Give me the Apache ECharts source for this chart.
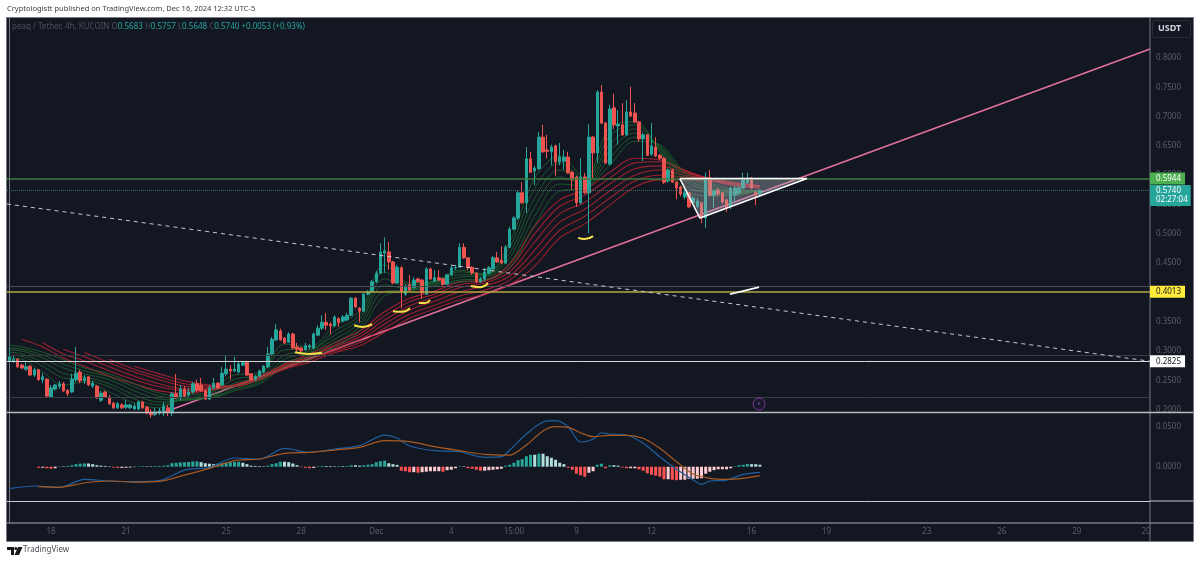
<!DOCTYPE html>
<html>
<head>
<meta charset="utf-8">
<title>peaq / Tether</title>
<style>
html, body { margin: 0; padding: 0; background: #fff; }
#chart { width: 1200px; height: 565px; }
</style>
<script src="https://cdn.jsdelivr.net/npm/echarts@6/dist/echarts.min.js"></script>
</head>
<body>
<div id="chart"></div>
<script>
// candles, 4h bars (bar 0 is the first candle on the left)
const opens = [
  0.283,0.283,0.286,0.276,0.269,0.274,0.259,0.268,0.251,0.252,
  0.221,0.235,0.240,0.244,0.233,0.230,0.251,0.264,0.249,0.256,
  0.240,0.240,0.216,0.230,0.221,0.211,0.203,0.208,0.204,0.203,
  0.201,0.201,0.213,0.204,0.196,0.192,0.194,0.194,0.203,0.194,
  0.227,0.220,0.235,0.225,0.230,0.244,0.242,0.232,0.218,0.237,
  0.245,0.242,0.261,0.269,0.266,0.264,0.276,0.281,0.261,0.252,
  0.257,0.264,0.273,0.295,0.319,0.334,0.322,0.315,0.329,0.307,
  0.305,0.302,0.307,0.305,0.327,0.339,0.349,0.346,0.343,0.355,
  0.351,0.353,0.361,0.390,0.373,0.368,0.397,0.401,0.418,0.433,
  0.467,0.469,0.452,0.416,0.442,0.397,0.413,0.408,0.423,0.421,
  0.397,0.440,0.419,0.425,0.423,0.414,0.430,0.442,0.443,0.477,
  0.459,0.443,0.433,0.418,0.423,0.433,0.440,0.459,0.455,0.450,
  0.477,0.508,0.527,0.570,0.553,0.628,0.607,0.611,0.665,0.643,
  0.640,0.650,0.623,0.624,0.631,0.605,0.597,0.553,0.597,0.570,
  0.665,0.638,0.742,0.689,0.619,0.715,0.684,0.686,0.669,0.708,
  0.706,0.691,0.662,0.669,0.636,0.648,0.634,0.629,0.590,0.609,
  0.588,0.580,0.563,0.570,0.553,0.547,0.553,0.527,0.595,0.566,
  0.575,0.570,0.558,0.546,0.566,0.570,0.578,0.587,0.595,0.571,
  0.5683
];
const closes = [
  0.290,0.286,0.273,0.271,0.273,0.259,0.268,0.251,0.256,0.223,
  0.237,0.242,0.244,0.232,0.227,0.252,0.262,0.249,0.254,0.242,
  0.245,0.220,0.228,0.221,0.210,0.203,0.210,0.203,0.208,0.208,
  0.206,0.213,0.203,0.194,0.191,0.196,0.198,0.206,0.196,0.227,
  0.220,0.235,0.223,0.230,0.244,0.233,0.232,0.218,0.237,0.245,
  0.237,0.262,0.269,0.266,0.269,0.278,0.280,0.259,0.251,0.257,
  0.266,0.274,0.295,0.320,0.336,0.319,0.314,0.329,0.305,0.303,
  0.300,0.309,0.309,0.329,0.339,0.349,0.344,0.343,0.358,0.349,
  0.358,0.361,0.390,0.375,0.368,0.397,0.401,0.418,0.433,0.469,
  0.471,0.452,0.416,0.443,0.402,0.409,0.404,0.421,0.418,0.399,
  0.440,0.423,0.425,0.421,0.414,0.430,0.442,0.443,0.477,0.459,
  0.442,0.433,0.418,0.423,0.435,0.442,0.459,0.452,0.450,0.477,
  0.508,0.527,0.570,0.553,0.628,0.605,0.612,0.665,0.640,0.641,
  0.648,0.623,0.631,0.631,0.604,0.592,0.553,0.597,0.570,0.665,
  0.638,0.742,0.689,0.621,0.713,0.686,0.687,0.669,0.708,0.701,
  0.691,0.662,0.669,0.634,0.650,0.633,0.629,0.588,0.609,0.588,
  0.578,0.568,0.570,0.546,0.561,0.556,0.527,0.595,0.566,0.573,
  0.568,0.554,0.544,0.578,0.578,0.578,0.592,0.595,0.578,0.566,
  0.5740
];
const highs = [
  0.305,0.293,0.288,0.278,0.281,0.276,0.271,0.269,0.262,0.254,
  0.242,0.244,0.249,0.247,0.235,0.261,0.307,0.268,0.259,0.257,
  0.249,0.242,0.232,0.232,0.225,0.213,0.213,0.211,0.216,0.210,
  0.210,0.215,0.215,0.206,0.201,0.203,0.203,0.213,0.208,0.230,
  0.261,0.242,0.240,0.237,0.247,0.251,0.254,0.235,0.242,0.254,
  0.247,0.273,0.293,0.276,0.290,0.281,0.283,0.283,0.262,0.259,
  0.268,0.276,0.307,0.324,0.346,0.338,0.324,0.332,0.331,0.314,
  0.307,0.314,0.312,0.332,0.344,0.361,0.365,0.349,0.361,0.358,
  0.361,0.365,0.392,0.392,0.375,0.399,0.404,0.421,0.437,0.484,
  0.494,0.486,0.454,0.447,0.445,0.414,0.430,0.426,0.425,0.423,
  0.443,0.442,0.438,0.438,0.425,0.431,0.445,0.447,0.484,0.484,
  0.460,0.445,0.435,0.426,0.442,0.445,0.462,0.469,0.479,0.481,
  0.512,0.530,0.573,0.588,0.648,0.640,0.616,0.674,0.686,0.669,
  0.652,0.652,0.655,0.643,0.640,0.607,0.599,0.629,0.604,0.687,
  0.667,0.745,0.754,0.691,0.720,0.739,0.711,0.723,0.728,0.751,
  0.723,0.692,0.672,0.670,0.689,0.665,0.636,0.631,0.612,0.611,
  0.590,0.582,0.575,0.571,0.564,0.561,0.554,0.605,0.609,0.576,
  0.578,0.571,0.559,0.580,0.582,0.582,0.604,0.604,0.597,0.573,
  0.5757
];
const lows = [
  0.281,0.280,0.271,0.269,0.266,0.257,0.256,0.249,0.245,0.221,
  0.220,0.232,0.235,0.230,0.223,0.228,0.247,0.245,0.244,0.240,
  0.237,0.218,0.213,0.220,0.208,0.201,0.201,0.201,0.201,0.201,
  0.199,0.199,0.201,0.192,0.186,0.189,0.191,0.189,0.189,0.189,
  0.218,0.216,0.220,0.221,0.227,0.230,0.230,0.216,0.216,0.235,
  0.235,0.240,0.257,0.251,0.264,0.262,0.274,0.257,0.249,0.249,
  0.256,0.262,0.271,0.291,0.317,0.317,0.312,0.314,0.303,0.298,
  0.298,0.300,0.303,0.303,0.326,0.336,0.336,0.329,0.341,0.341,
  0.349,0.351,0.360,0.373,0.349,0.367,0.396,0.399,0.416,0.431,
  0.433,0.438,0.414,0.414,0.373,0.394,0.402,0.406,0.416,0.389,
  0.396,0.421,0.418,0.419,0.411,0.413,0.428,0.438,0.442,0.457,
  0.438,0.430,0.416,0.416,0.419,0.431,0.438,0.450,0.448,0.448,
  0.476,0.506,0.524,0.551,0.536,0.604,0.583,0.609,0.638,0.629,
  0.617,0.599,0.617,0.609,0.602,0.575,0.546,0.551,0.568,0.501,
  0.595,0.621,0.687,0.619,0.617,0.679,0.652,0.667,0.667,0.699,
  0.689,0.657,0.624,0.633,0.633,0.631,0.626,0.585,0.587,0.587,
  0.559,0.564,0.559,0.544,0.549,0.544,0.518,0.510,0.564,0.544,
  0.564,0.551,0.537,0.542,0.554,0.566,0.576,0.585,0.576,0.549,
  0.5648
];

// ribbon lines, price read at these bars (null where a line has not started yet)
const ribbonBars = [0,3,8,13,18,24,30,36,42,48,54,60,66,72,78,84,90,96,102,108,114,120,126,132,138,144,150,156,162,168,174,180];
const green1 = [0.288,0.286,0.264,0.242,0.247,0.230,0.211,0.203,0.223,0.230,0.259,0.262,0.312,0.307,0.343,0.368,0.447,0.416,0.419,0.438,0.431,0.486,0.595,0.633,0.595,0.681,0.691,0.640,0.575,0.565,0.566,0.575];
const green2 = [0.293,0.291,0.274,0.254,0.251,0.239,0.218,0.208,0.218,0.227,0.252,0.259,0.302,0.303,0.334,0.361,0.435,0.413,0.419,0.435,0.431,0.477,0.578,0.621,0.592,0.667,0.686,0.643,0.583,0.570,0.568,0.575];
const green3 = [0.298,0.295,0.281,0.262,0.256,0.244,0.225,0.213,0.216,0.223,0.245,0.256,0.293,0.300,0.327,0.355,0.423,0.409,0.418,0.430,0.430,0.467,0.561,0.609,0.588,0.653,0.679,0.646,0.590,0.575,0.570,0.575];
const green4 = [0.302,0.300,0.288,0.271,0.261,0.251,0.232,0.218,0.216,0.221,0.240,0.251,0.286,0.297,0.320,0.348,0.413,0.406,0.416,0.426,0.428,0.459,0.546,0.597,0.585,0.641,0.672,0.648,0.595,0.578,0.571,0.573];
const green5 = [0.305,0.303,0.293,0.278,0.266,0.256,0.239,0.223,0.218,0.220,0.235,0.247,0.280,0.291,0.314,0.341,0.402,0.404,0.414,0.421,0.425,0.450,0.530,0.585,0.582,0.629,0.665,0.650,0.600,0.583,0.573,0.573];
const green6 = [0.310,0.307,0.298,0.285,0.271,0.261,0.244,0.228,0.221,0.220,0.232,0.244,0.273,0.286,0.307,0.334,0.394,0.402,0.411,0.418,0.421,0.442,0.515,0.573,0.578,0.617,0.658,0.652,0.605,0.587,0.575,0.573];
const red1 = [null,0.320,0.307,0.288,0.274,0.257,0.244,0.232,0.228,0.233,0.242,0.257,0.278,0.295,0.314,0.334,0.367,0.390,0.402,0.418,0.421,0.448,0.513,0.558,0.575,0.605,0.629,0.626,0.609,0.592,0.582,0.578];
const red2 = [null,null,0.314,0.295,0.283,0.266,0.251,0.239,0.232,0.233,0.242,0.256,0.276,0.291,0.310,0.329,0.360,0.384,0.397,0.413,0.419,0.442,0.500,0.547,0.566,0.595,0.621,0.623,0.607,0.594,0.583,0.580];
const red3 = [null,null,null,0.303,0.290,0.273,0.257,0.244,0.235,0.235,0.242,0.254,0.274,0.290,0.307,0.324,0.353,0.377,0.392,0.408,0.416,0.435,0.486,0.534,0.554,0.585,0.611,0.616,0.604,0.595,0.585,0.580];
const red4 = [null,null,null,null,0.298,0.280,0.264,0.251,0.240,0.237,0.240,0.252,0.273,0.286,0.303,0.319,0.346,0.370,0.385,0.401,0.411,0.428,0.472,0.520,0.542,0.573,0.600,0.609,0.600,0.595,0.587,0.582];
const red5 = [null,null,null,null,null,0.286,0.269,0.256,0.244,0.240,0.240,0.251,0.271,0.285,0.300,0.314,0.339,0.363,0.378,0.394,0.404,0.421,0.459,0.506,0.530,0.561,0.590,0.600,0.597,0.594,0.587,0.582];
const red6 = [null,null,null,null,null,null,0.274,0.261,0.249,0.242,0.240,0.251,0.269,0.281,0.297,0.309,0.332,0.356,0.372,0.387,0.397,0.413,0.445,0.493,0.517,0.549,0.580,0.592,0.592,0.590,0.585,0.582];

// macd pane
const histStart = 7;
const histValues = [
  -0.0013,-0.0013,-0.0019,-0.0025,-0.0019,0.0006,0.0006,0.0010,0.0019,0.0032,0.0038,0.0042,0.0040,
  0.0032,0.0019,0.0013,0.0010,0.0006,-0.0010,-0.0015,-0.0015,-0.0013,-0.0010,-0.0005,0.0005,0.0008,
  0.0006,0.0006,0.0008,0.0010,0.0013,0.0019,0.0044,0.0050,0.0054,0.0057,0.0060,0.0066,0.0067,0.0057,
  0.0044,0.0038,0.0032,0.0038,0.0044,0.0050,0.0057,0.0060,0.0063,0.0050,0.0032,0.0013,0.0010,0.0008,
  0.0006,0.0013,0.0032,0.0044,0.0063,0.0063,0.0057,0.0040,0.0019,-0.0006,-0.0013,-0.0019,-0.0015,
  0.0006,0.0010,0.0009,0.0008,0.0006,0.0008,0.0008,0.0009,0.0019,0.0019,0.0013,0.0019,0.0025,0.0032,
  0.0057,0.0069,0.0076,0.0044,0.0032,0.0023,-0.0050,-0.0057,-0.0069,-0.0069,-0.0076,-0.0069,-0.0063,
  -0.0057,-0.0057,-0.0057,-0.0063,-0.0044,-0.0038,-0.0019,0.0006,0.0006,-0.0019,-0.0025,-0.0038,
  -0.0050,-0.0050,-0.0044,-0.0038,-0.0032,-0.0025,0.0013,0.0025,0.0050,0.0082,0.0095,0.0132,0.0151,
  0.0151,0.0164,0.0164,0.0132,0.0113,0.0088,0.0050,0.0032,-0.0013,-0.0038,-0.0088,-0.0107,-0.0126,
  -0.0076,-0.0057,0.0025,0.0038,-0.0019,0.0019,0.0019,0.0013,-0.0010,-0.0019,-0.0019,-0.0019,-0.0032,
  -0.0050,-0.0082,-0.0101,-0.0113,-0.0126,-0.0158,-0.0158,-0.0164,-0.0170,-0.0164,-0.0164,-0.0151,
  -0.0151,-0.0151,-0.0145,-0.0088,-0.0063,-0.0044,-0.0032,-0.0032,-0.0032,-0.0019,0.0006,0.0019,
  0.0025,0.0035,0.0032,0.0032,0.0025
];
const macdBars = [0,6,12,18,24,30,36,42,48,54,60,66,72,78,84,90,93,96,102,108,114,118,120,124,128,131,134,137,140,142,144,148,152,156,160,164,166,168,172,176,180];
const macdValues = [-0.0277,-0.0243,-0.0260,-0.0159,-0.0180,-0.0189,-0.0176,-0.0042,-0.0008,0.0110,0.0097,0.0232,0.0181,0.0223,0.0265,0.0399,0.0362,0.0261,0.0202,0.0189,0.0118,0.0126,0.0210,0.0412,0.0563,0.0580,0.0504,0.0311,0.0345,0.0428,0.0412,0.0399,0.0295,0.0126,-0.0033,-0.0168,-0.0222,-0.0180,-0.0168,-0.0096,-0.0071];
const signalBars = [7,12,18,24,30,36,42,48,54,60,66,72,78,84,90,96,102,108,114,120,124,128,131,134,137,140,144,148,152,156,160,164,168,172,176,180];
const signalValues = [-0.0252,-0.0260,-0.0205,-0.0180,-0.0193,-0.0184,-0.0105,-0.0020,0.0076,0.0097,0.0169,0.0181,0.0210,0.0244,0.0328,0.0315,0.0252,0.0202,0.0156,0.0147,0.0273,0.0450,0.0504,0.0496,0.0428,0.0378,0.0396,0.0396,0.0358,0.0232,0.0063,-0.0092,-0.0146,-0.0159,-0.0146,-0.0113];

// axis ticks
const priceTicks = [0.20,0.25,0.30,0.35,0.40,0.45,0.50,0.55,0.60,0.65,0.70,0.75,0.80];
const macdTicks = [0,0.05];
const timeBars = [10,28,52,70,88,106,121,136,154,178,196,220,238,256,272.6];
const timeLabels = ['18','21','25','28','Dec','4','15:00','9','12','16','19','23','26','29','20'];

// drawings on the chart
const pinkBars = [37.3,273.55];
const pinkPrices = [0.196,0.8154];
const dashBars = [-0.55,273.55];
const dashPrices = [0.5509,0.2825];
const triangleBars = [160.8,165.6,191.3];
const trianglePrices = [0.5944,0.527,0.5944];
const strokeBars = [[68.5,71.9,75],[82.7,84.8,87],[92,94.2,96.1],[98.2,99.7,100.9],[110.7,112.9,114.8],[136.4,138,140]];
const strokePrices = [[0.298,0.295,0.297],[0.344,0.341,0.346],[0.368,0.367,0.373],[0.382,0.382,0.387],[0.411,0.409,0.416],[0.493,0.491,0.496]];
const whiteBars = [172.8,179.8];
const whitePrices = [0.397,0.409];

const UP = '#26a69a', DOWN = '#ef5350', BG = '#131722', TICK = '#5a5e69', EDGE = '#787b86';
const FONT = '"Noto Sans", sans-serif';

function pairs(bars, values) {
  return bars.map((b, k) => [b, values[k]]).filter(p => p[1] !== null);
}

function lineSeries(bars, values, color, width, extra) {
  return Object.assign({
    type: 'line', xAxisIndex: 0, yAxisIndex: 0, data: pairs(bars, values),
    showSymbol: false, symbol: 'none', silent: true, animation: false,
    lineStyle: { color: color, width: width }, z: 3
  }, extra || {});
}

function hline(value, color, width, tag) {
  const item = { yAxis: value, lineStyle: { color: color, width: width, type: 'solid' }, label: { show: false } };
  if (tag) {
    item.label = {
      show: true, position: 'end', distance: 0, formatter: tag.text, color: tag.color,
      backgroundColor: tag.bg, padding: [2, 4, 1, 6], fontSize: 8, lineHeight: 9, fontFamily: FONT, align: 'left'
    };
  }
  return item;
}

const candleData = opens.map((o, i) => [i, o, closes[i], lows[i], highs[i]]);

// histogram colour follows the direction of the bar against the one before it
const histData = histValues.map((v, k) => {
  const prev = k > 0 ? histValues[k - 1] : 0;
  let color;
  if (v >= 0) color = v > prev ? UP : '#b2dfdb';
  else color = v < prev ? '#ff5252' : '#ffcdd2';
  return { value: [histStart + k, v], itemStyle: { color: color } };
});

const series = [];
// pink trendline goes under the ribbon, the red bundle covers it where they meet
series.push(lineSeries(pinkBars, pinkPrices, '#e2709d', 1.6, { z: 2 }));
[red6, red5, red4, red3, red2, red1].forEach(r => {
  series.push(lineSeries(ribbonBars, r, 'rgba(190,35,50,0.8)', 1.1, { smooth: 0.35 }));
});
[green6, green5, green4, green3, green2, green1].forEach(g => {
  series.push(lineSeries(ribbonBars, g, 'rgba(30,110,45,0.75)', 1, { smooth: 0.35 }));
});

series.push({
  type: 'candlestick', xAxisIndex: 0, yAxisIndex: 0, data: candleData, barWidth: 3, silent: true, animation: false, z: 4,
  itemStyle: { color: UP, color0: DOWN, borderColor: UP, borderColor0: DOWN, borderWidth: 1 },
  markLine: {
    symbol: 'none', silent: true, animation: false, precision: 4,
    data: [
      hline(0.5944, '#3f7a3f', 1.5, { text: '0.5944', color: '#fff', bg: '#4caf50' }),
      Object.assign(hline(0.5740, '#3d6b68', 1), { lineStyle: { color: '#3f6f6b', width: 1, type: 'dotted' },
        label: { show: true, position: 'end', distance: 0, offset: [0, 5], formatter: '0.5740\n02:27:04', color: '#fff', backgroundColor: UP, padding: [1, 3, 1, 6], fontSize: 8, lineHeight: 9.5, fontFamily: FONT, align: 'left' } }),
      hline(0.411, '#4d5059', 1),
      hline(0.4013, '#b5a642', 1.5, { text: '0.4013', color: '#131722', bg: '#ffeb3b' }),
      hline(0.2925, '#3a3d46', 1),
      hline(0.2825, '#d6d6d6', 1, { text: '0.2825', color: '#131722', bg: '#fff' }),
      hline(0.2214, '#3a3d46', 1)
    ]
  }
});

// triangle fill and its sides
series.push({
  type: 'custom', xAxisIndex: 0, yAxisIndex: 0, silent: true, animation: false, z: 5,
  data: [[triangleBars[1], trianglePrices[1]]],
  renderItem: function (params, api) {
    const pts = triangleBars.map((b, k) => api.coord([b, trianglePrices[k]]));
    return { type: 'polygon', shape: { points: pts }, style: { fill: 'rgba(170,175,185,0.38)' } };
  }
});
series.push(lineSeries(dashBars, dashPrices, '#c8cad0', 1, { z: 6, lineStyle: { color: '#c8cad0', width: 1, type: [4, 4] } }));
series.push(lineSeries(triangleBars.concat(triangleBars[0]), trianglePrices.concat(trianglePrices[0]), '#ffffff', 1.6, { z: 6 }));
strokeBars.forEach((b, k) => {
  series.push(lineSeries(b, strokePrices[k], '#f5e04a', 2, { smooth: true, z: 6 }));
});
series.push(lineSeries(whiteBars, whitePrices, '#ffffff', 1.6, { z: 6 }));

// alert marker
series.push({
  type: 'scatter', xAxisIndex: 0, yAxisIndex: 0, silent: true, animation: false, z: 6,
  data: [[179.8, 0.2095]], symbol: 'circle', symbolSize: 12,
  itemStyle: { color: '#1a1830', borderColor: '#8e44ad', borderWidth: 1 },
  label: { show: true, position: 'inside', formatter: '\u26A1', color: '#a55cc8', fontSize: 7, fontFamily: '"DejaVu Sans"' }
});

// macd pane
series.push({
  type: 'bar', xAxisIndex: 1, yAxisIndex: 1, data: histData, barWidth: 3, silent: true, animation: false, z: 2,
  markLine: {
    symbol: 'none', silent: true, animation: false, precision: 4, label: { show: false },
    data: [{ yAxis: -0.0432, lineStyle: { color: '#c8cad0', width: 1, type: 'solid' } }]
  }
});
series.push(lineSeries(macdBars, macdValues, '#1f5f9e', 1.2, { xAxisIndex: 1, yAxisIndex: 1, smooth: 0.3, z: 4 }));
series.push(lineSeries(signalBars, signalValues, '#a85a22', 1.2, { xAxisIndex: 1, yAxisIndex: 1, smooth: 0.3, z: 4 }));

const option = {
  animation: false,
  backgroundColor: '#ffffff',
  textStyle: { fontFamily: FONT },
  grid: [
    { left: 7, top: 18, width: 1143, height: 394, outerBoundsMode: 'none' },
    { left: 7, top: 414, width: 1143, height: 109, outerBoundsMode: 'none' }
  ],
  xAxis: [
    { type: 'value', gridIndex: 0, min: -0.55, max: 273.55, axisLine: { show: false }, axisTick: { show: false }, axisLabel: { show: false }, splitLine: { show: false } },
    {
      type: 'value', gridIndex: 1, min: -0.55, max: 273.55, splitLine: { show: false }, axisTick: { show: false },
      axisLine: { show: true, onZero: false, lineStyle: { color: EDGE, width: 1.5 } },
      axisLabel: {
        customValues: timeBars, color: TICK, fontSize: 8, margin: 5, fontFamily: FONT, hideOverlap: false, showMinLabel: true, showMaxLabel: true,
        formatter: v => timeLabels[timeBars.indexOf(v)]
      }
    }
  ],
  yAxis: [
    {
      type: 'value', gridIndex: 0, position: 'right', min: 0.1959, max: 0.8683, splitLine: { show: false },
      axisLine: { show: true, lineStyle: { color: EDGE, width: 1 } }, axisTick: { show: false },
      axisLabel: { customValues: priceTicks, color: TICK, fontSize: 8, margin: 6, fontFamily: FONT, formatter: v => v.toFixed(4) }
    },
    {
      type: 'value', gridIndex: 1, position: 'right', min: -0.0709, max: 0.0664, splitLine: { show: false },
      axisLine: { show: true, lineStyle: { color: EDGE, width: 1 } }, axisTick: { show: false },
      axisLabel: { customValues: macdTicks, color: TICK, fontSize: 8, margin: 6, fontFamily: FONT, formatter: v => v.toFixed(4) }
    }
  ],
  graphic: [
    { type: 'rect', z: -10, silent: true, shape: { x: 6.5, y: 17.5, width: 1147, height: 524 }, style: { fill: BG, stroke: EDGE, lineWidth: 1 } },
    { type: 'rect', z: -10, silent: true, shape: { x: 1150, y: 17.5, width: 43.5, height: 524 }, style: { fill: BG, stroke: EDGE, lineWidth: 1 } },
    { type: 'line', z: 7, silent: true, shape: { x1: 7, y1: 412.5, x2: 1193, y2: 412.5 }, style: { stroke: '#b9bbc0', lineWidth: 1.5 } },
    { type: 'line', z: 7, silent: true, shape: { x1: 1150, y1: 501, x2: 1193, y2: 501 }, style: { stroke: '#c8cad0', lineWidth: 1 } },
    { type: 'line', z: 7, silent: true, shape: { x1: 1150, y1: 523, x2: 1193, y2: 523 }, style: { stroke: EDGE, lineWidth: 1.5 } },
    { type: 'rect', z: 7, silent: true, shape: { x: 1152.5, y: 20.5, width: 38, height: 17, r: 2 }, style: { fill: BG, stroke: '#2a2e39', lineWidth: 1 } },
    { type: 'text', z: 8, silent: true, x: 1158, y: 24, style: { text: 'USDT', fill: '#d1d4dc', fontSize: 9, fontWeight: 'bold', fontFamily: FONT } },
    { type: 'text', z: 8, silent: true, x: 7, y: 5, style: { text: 'Cryptologistt published on TradingView.com, Dec 16, 2024 12:32 UTC-5', fill: '#3a3d45', fontSize: 7.5, fontFamily: FONT } },
    {
      type: 'text', z: 8, silent: true, x: 12, y: 23,
      style: {
        rich: { d: { fill: '#4b4f5b', fontSize: 8, fontFamily: FONT }, v: { fill: UP, fontSize: 8, fontFamily: FONT } },
        text: '{d|peaq / Tether, 4h, KUCOIN O}{v|0.5683}{d| H}{v|0.5757}{d| L}{v|0.5648}{d| C}{v|0.5740}{v| +0.0053 (+0.93%)}'
      }
    },
    // logo mark
    { type: 'polygon', z: 8, silent: true, shape: { points: [[7, 547], [14, 547], [14, 555], [11, 555], [11, 550], [7, 550]] }, style: { fill: '#1a1a1a' } },
    { type: 'circle', z: 8, silent: true, shape: { cx: 15.8, cy: 548.5, r: 1.5 }, style: { fill: '#1a1a1a' } },
    { type: 'polygon', z: 8, silent: true, shape: { points: [[18, 547], [22.5, 547], [19, 555], [14.5, 555]] }, style: { fill: '#1a1a1a' } },
    { type: 'text', z: 8, silent: true, x: 23, y: 546, style: { text: 'TradingView', fill: '#4a4d55', fontSize: 8, fontFamily: FONT } }
  ],
  series: series
};

const chart = echarts.init(document.getElementById('chart'), null, { renderer: 'canvas' });
chart.setOption(option);
</script>
</body>
</html>
